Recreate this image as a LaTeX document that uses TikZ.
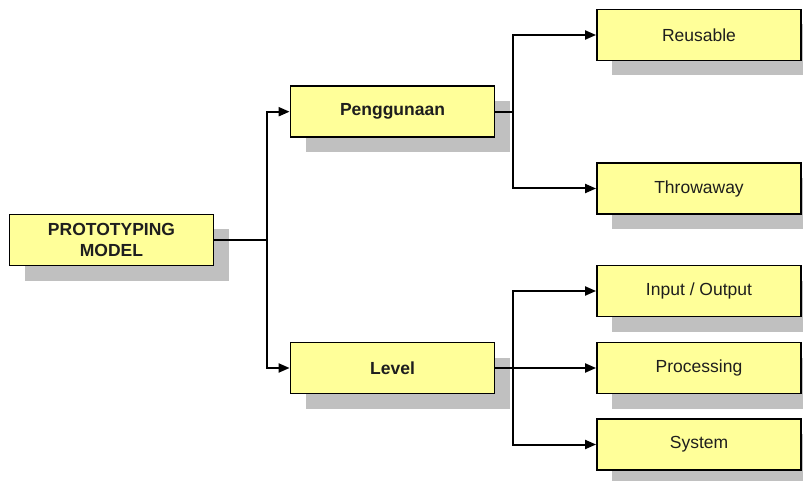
\documentclass[tikz,border=0pt]{standalone}
\usepackage{fontspec}
\setmainfont{Liberation Sans}
\usetikzlibrary{arrows.meta,shadows}
\definecolor{boxfill}{RGB}{255,255,153}
\definecolor{shadowgray}{RGB}{192,192,192}
\definecolor{txt}{RGB}{30,30,30}
\tikzset{
  box/.style={draw=black, line width=1.8pt, fill=boxfill, minimum width=204pt, minimum height=51pt,
    inner sep=0pt, align=center, text=txt, font=\fontsize{17.5}{21}\selectfont,
    drop shadow={shadow xshift=15pt, shadow yshift=-15pt, fill=shadowgray, opacity=1}},
  bbox/.style={box, font=\fontsize{17.5}{21}\selectfont\bfseries},
  conn/.style={line width=2pt, draw=black},
  arr/.style={conn, -{Triangle[length=11pt,width=9pt]}}
}
\begin{document}
\begin{tikzpicture}[x=1pt,y=-1pt]
\useasboundingbox (0,0) rectangle (803,481);
\fill[white] (0,0) rectangle (803,481);
\node[bbox] (pm) at (111.5,240) {PROTOTYPING\\MODEL};
\node[bbox] (pen) at (392.5,111.7) {Penggunaan};
\node[bbox] (lev) at (392.5,368) {Level};
\node[box] (reu) at (699,35) {Reusable};
\node[box] (thr) at (699,188.5) {Throwaway};
\node[box] (io) at (699,291) {Input / Output};
\node[box] (proc) at (699,368) {Processing};
\node[box] (sys) at (699,444.5) {System};
\coordinate (t1) at (267,240);
\coordinate (t2) at (513,111.7);
\coordinate (t3) at (513,368);
\draw[conn] (pm.east) -- (t1);
\draw[arr] (t1) |- (pen.west);
\draw[arr] (t1) |- (lev.west);
\draw[conn] (pen.east) -- (t2);
\draw[arr] (t2) |- (reu.west);
\draw[arr] (t2) |- (thr.west);
\draw[arr] (lev.east) -- (proc.west);
\draw[arr] (t3) |- (io.west);
\draw[arr] (t3) |- (sys.west);
\end{tikzpicture}
\end{document}
